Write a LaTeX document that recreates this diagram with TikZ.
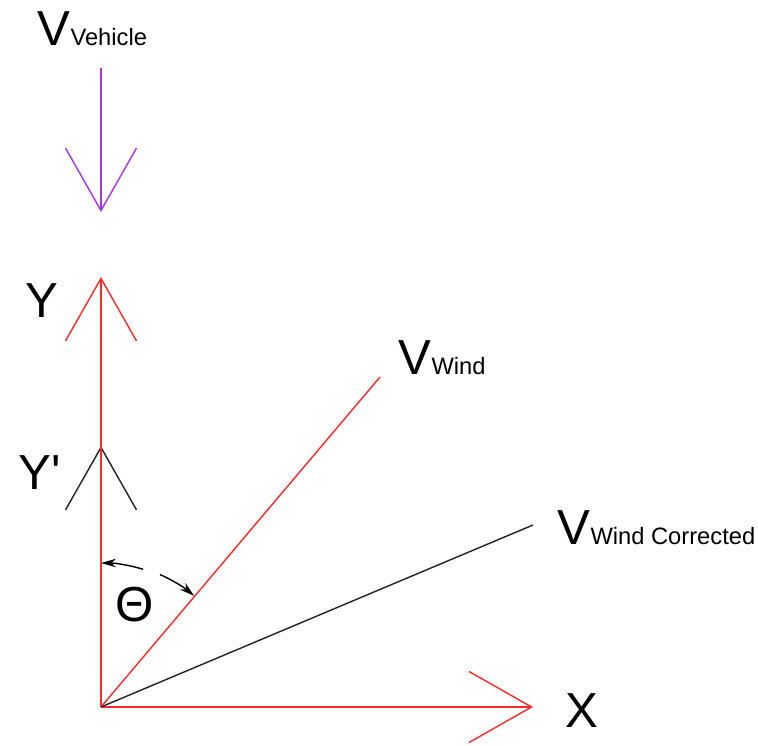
\documentclass[tikz,border=0pt]{standalone}
\usepackage{fontspec}
\setmainfont{Liberation Sans}
\usetikzlibrary{arrows.meta, calc}
\definecolor{axRed}{HTML}{FF2A2A}
\definecolor{vhPurple}{HTML}{A335F5}
\definecolor{wcGray}{HTML}{222222}
\newcommand{\vsub}[1]{V{\fontsize{13.5}{14}\selectfont #1}}

\begin{document}
\begin{tikzpicture}[x=0.02cm, y=-0.02cm,
  line width=0.8pt,
  vtip/.style={-{Straight Barb[length=1.25cm, width=1.42cm]}},
  lbl/.style={inner sep=0pt, anchor=base west, font=\fontsize{28}{28}\selectfont},
  theta/.style={-{Stealth[length=3mm, width=1.7mm]}}]
  \useasboundingbox (0,0) rectangle (758,746);
  % axes and vectors
  \coordinate (O) at (101,707);
  \coordinate (Ytip) at (101,277);
  \coordinate (Yptip) at (101,446);
  \coordinate (Xtip) at (533,707);
  \coordinate (Wind) at (380,377);
  \coordinate (Corr) at (533,525);
  \coordinate (Vtop) at (101,68);
  \coordinate (Vtip) at (101,212);

  \draw[wcGray, vtip] ($(Yptip)+(0,12)$) -- (Yptip);
  \draw[axRed, vtip] (O) -- (Ytip);
  \draw[axRed, vtip] (O) -- (Xtip);
  \draw[axRed] (O) -- (Wind);
  \draw[wcGray] (O) -- (Corr);
  \draw[vhPurple, vtip] (Vtop) -- (Vtip);

  % angle
  \draw[theta, line width=0.8pt] ($(O)+(-73:144)$) arc[start angle=-73, end angle=-90, radius=144];
  \draw[theta, line width=0.8pt] ($(O)+(-66:145)$) arc[start angle=-66, end angle=-50, radius=145];

  % labels
  \node[lbl] (vveh) at (37,46) {\vsub{Vehicle}};
  \node[lbl] (ylab) at (25,318) {Y};
  \node[lbl] (yplab) at (18,490) {Y\textquotesingle};
  \node[lbl] (vwind) at (398,375) {\vsub{Wind}};
  \node[lbl] (vcorr) at (557,545) {\vsub{Wind Corrected}};
  \node[lbl] (xlab) at (565,727) {X};
  \node[font=\fontsize{28}{28}\selectfont] (th) at (135,605) {Θ};
\end{tikzpicture}
\end{document}
